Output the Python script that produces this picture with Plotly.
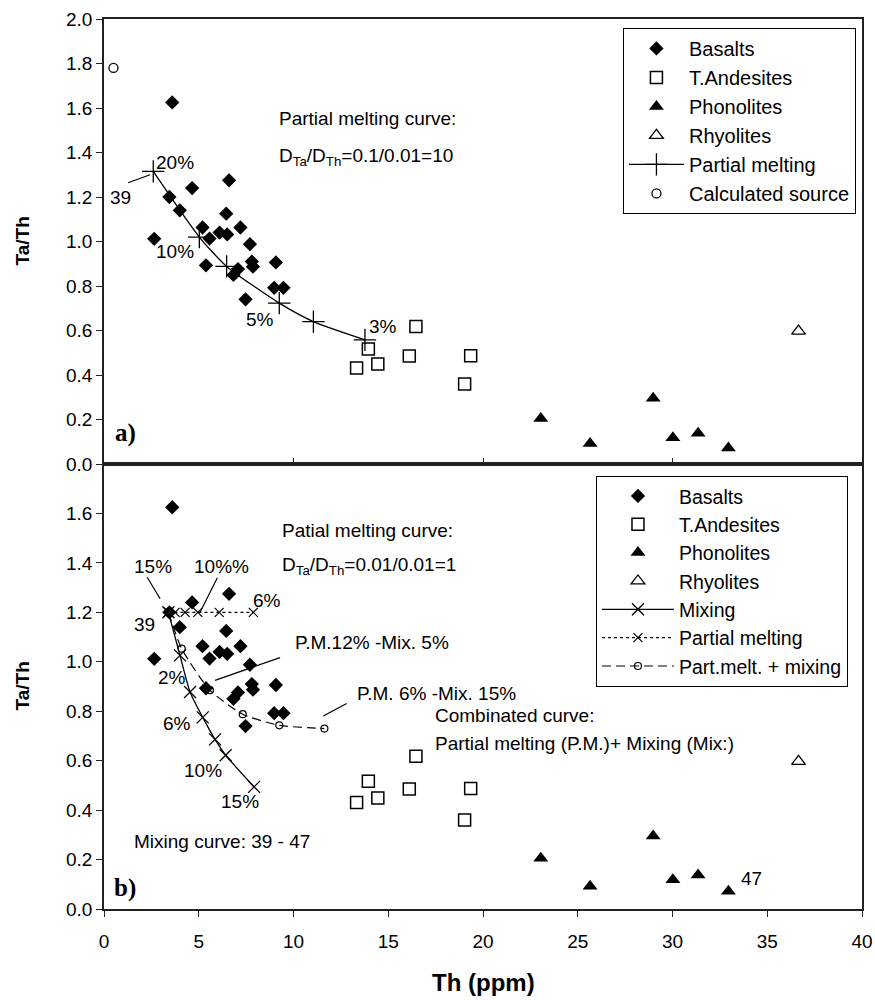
import plotly.graph_objects as go

# ---------------- data ----------------
basalt_th = [3.6, 3.45, 4.0, 4.65, 6.6, 6.45, 5.2, 6.1, 6.5, 7.2, 2.65, 5.57,
             7.7, 5.38, 7.07, 6.83, 7.8, 7.86, 9.07, 8.98, 9.47, 7.47]
basalt_tath = [1.625, 1.2, 1.14, 1.24, 1.275, 1.125, 1.063, 1.04, 1.032, 1.063, 1.012, 1.013,
               0.988, 0.893, 0.876, 0.85, 0.91, 0.887, 0.906, 0.792, 0.792, 0.74]
andes_th = [13.95, 13.33, 14.45, 16.11, 16.46, 19.35, 19.03]
andes_tath = [0.517, 0.431, 0.449, 0.485, 0.618, 0.487, 0.36]
phono_th = [23.05, 25.65, 28.98, 30.02, 31.35, 32.95]
phono_tath = [0.205, 0.092, 0.295, 0.118, 0.138, 0.072]
rhyo_th = [36.65]
rhyo_tath = [0.597]
source_th = [0.5]
source_tath = [1.78]

# panel a: partial melting curve (D=10)
pm_a_th = [2.6, 5.03, 6.47, 9.25, 11.05, 13.77]
pm_a_tath = [1.315, 1.02, 0.888, 0.723, 0.64, 0.558]

# panel b curves
mix_th = [3.4, 4.01, 4.54, 5.21, 5.86, 6.42, 7.92]
mix_tath = [1.2, 1.026, 0.878, 0.775, 0.686, 0.622, 0.494]
pm_b_th = [3.4, 3.75, 4.28, 4.95, 6.08, 7.88]
pm_b_tath = [1.2, 1.2, 1.2, 1.2, 1.2, 1.2]
comb_th = [3.4, 4.1, 5.59, 7.32, 9.25, 11.63]
comb_tath = [1.2, 1.053, 0.885, 0.788, 0.743, 0.73]

x_ticks_a = [0, 10, 20, 30, 40]
x_ticks_b = [0, 5, 10, 15, 20, 25, 30, 35, 40]
y_ticks_a = [0.0, 0.2, 0.4, 0.6, 0.8, 1.0, 1.2, 1.4, 1.6, 1.8, 2.0]
y_ticks_b = [0.0, 0.2, 0.4, 0.6, 0.8, 1.0, 1.2, 1.4, 1.6]

FONT = "Liberation Sans, Arial, sans-serif"
FS = 19
BLACK = "black"

fig = go.Figure()


def add_samples(xa, ya, leg):
    fig.add_trace(go.Scatter(x=basalt_th, y=basalt_tath, mode="markers", name="Basalts",
                             marker=dict(symbol="diamond", size=11, color=BLACK),
                             xaxis=xa, yaxis=ya, legend=leg, legendrank=1))
    fig.add_trace(go.Scatter(x=andes_th, y=andes_tath, mode="markers", name="T.Andesites",
                             marker=dict(symbol="square-open", size=12, color=BLACK,
                                         line=dict(width=1.5, color=BLACK)),
                             xaxis=xa, yaxis=ya, legend=leg, legendrank=2))
    fig.add_trace(go.Scatter(x=phono_th, y=phono_tath, mode="markers", name="Phonolites",
                             marker=dict(symbol="triangle-up", size=13, color=BLACK),
                             xaxis=xa, yaxis=ya, legend=leg, legendrank=3))
    fig.add_trace(go.Scatter(x=rhyo_th, y=rhyo_tath, mode="markers", name="Rhyolites",
                             marker=dict(symbol="triangle-up-open", size=12, color=BLACK,
                                         line=dict(width=1.3, color=BLACK)),
                             xaxis=xa, yaxis=ya, legend=leg, legendrank=4))


# ---- panel a ----
fig.add_trace(go.Scatter(x=pm_a_th, y=pm_a_tath, mode="lines+markers", name="Partial melting",
                         line=dict(color=BLACK, width=1.3, shape="spline", smoothing=0.6),
                         marker=dict(symbol="cross-thin", size=16, color=BLACK,
                                     line=dict(width=1.3, color=BLACK)),
                         xaxis="x", yaxis="y", legend="legend", legendrank=5))
add_samples("x", "y", "legend")
fig.add_trace(go.Scatter(x=source_th, y=source_tath, mode="markers", name="Calculated source",
                         marker=dict(symbol="circle-open", size=9, color=BLACK,
                                     line=dict(width=1.3, color=BLACK)),
                         xaxis="x", yaxis="y", legend="legend", legendrank=6))

# ---- panel b ----
fig.add_trace(go.Scatter(x=mix_th, y=mix_tath, mode="lines+markers", name="Mixing",
                         line=dict(color=BLACK, width=1.3, shape="spline", smoothing=0.6),
                         marker=dict(symbol="x-thin", size=12, color=BLACK,
                                     line=dict(width=1.3, color=BLACK)),
                         xaxis="x2", yaxis="y2", legend="legend2", legendrank=5))
fig.add_trace(go.Scatter(x=pm_b_th, y=pm_b_tath, mode="lines+markers", name="Partial melting",
                         line=dict(color=BLACK, width=1.2, dash="3px,3px"),
                         marker=dict(symbol="x-thin", size=9, color=BLACK,
                                     line=dict(width=1.2, color=BLACK)),
                         xaxis="x2", yaxis="y2", legend="legend2", legendrank=6))
fig.add_trace(go.Scatter(x=comb_th, y=comb_tath, mode="lines+markers", name="Part.melt. + mixing",
                         line=dict(color=BLACK, width=1.2, dash="9px,5px", shape="spline",
                                   smoothing=0.6),
                         marker=dict(symbol="circle-open", size=7, color=BLACK,
                                     line=dict(width=1.2, color=BLACK)),
                         xaxis="x2", yaxis="y2", legend="legend2", legendrank=7))
add_samples("x2", "y2", "legend2")

axis_common = dict(showline=True, linecolor="#222", linewidth=1.5, mirror=True,
                   showgrid=False, zeroline=False, ticks="outside", ticklen=6,
                   tickcolor="#222", tickwidth=1.3, automargin=False,
                   tickfont=dict(family=FONT, size=FS, color=BLACK))

fig.update_layout(
    width=875, height=1000, autosize=False,
    margin=dict(l=104, r=13, t=19, b=91, autoexpand=False),
    paper_bgcolor="white", plot_bgcolor="white",
    font=dict(family=FONT, size=FS, color=BLACK),
    xaxis=dict(axis_common, domain=[0, 1], anchor="y", range=[0, 40], tickvals=x_ticks_a,
               ticks="inside", showticklabels=False),
    yaxis=dict(axis_common, domain=[0.5, 1], anchor="x", range=[0, 2.0], tickvals=y_ticks_a,
               tickformat=".1f"),
    xaxis2=dict(axis_common, domain=[0, 1], anchor="y2", range=[0, 40], tickvals=x_ticks_b,
                ticklabelstandoff=8),
    yaxis2=dict(axis_common, domain=[0, 0.5], anchor="x2", range=[0, 1.8], tickvals=y_ticks_b,
                tickformat=".1f"),
    legend=dict(x=0.992, y=0.99, xanchor="right", yanchor="top", bgcolor="white",
                bordercolor=BLACK, borderwidth=1, font=dict(family=FONT, size=20),
                tracegroupgap=0, itemwidth=55),
    legend2=dict(x=0.9815, y=0.4868, xanchor="right", yanchor="top", bgcolor="white",
                 bordercolor=BLACK, borderwidth=1, font=dict(family=FONT, size=19.5),
                 tracegroupgap=0, itemwidth=72),
)

ann = []


def txt(xr, yr, x, y, text, xanchor="center", size=FS, family=FONT):
    ann.append(dict(xref=xr, yref=yr, x=x, y=y, text=text, showarrow=False, xanchor=xanchor,
                    yanchor="middle", font=dict(family=family, size=size, color=BLACK)))


# panel a texts
txt("x", "y", 0.88, 1.20, "39")
txt("x", "y", 3.75, 1.357, "20%")
txt("x", "y", 3.75, 0.955, "10%")
txt("x", "y", 8.23, 0.651, "5%")
txt("x", "y", 14.71, 0.618, "3%")
txt("x", "y", 9.13, 1.555, "Partial melting curve:", xanchor="left")
txt("x", "y", 9.13, 1.382, "D<sub>Ta</sub>/D<sub>Th</sub>=0.1/0.01=10", xanchor="left")
txt("x", "y", 1.11, 0.141, "<b>a)</b>", size=25, family="Liberation Serif, Times New Roman, serif")

# panel b texts
txt("x2", "y2", 2.6, 1.386, "15%")
txt("x2", "y2", 6.21, 1.386, "10%%")
txt("x2", "y2", 8.59, 1.248, "6%")
txt("x2", "y2", 2.16, 1.152, "39")
txt("x2", "y2", 3.57, 0.936, "2%")
txt("x2", "y2", 3.87, 0.75, "6%")
txt("x2", "y2", 5.21, 0.562, "10%")
txt("x2", "y2", 7.18, 0.434, "15%")
txt("x2", "y2", 9.29, 1.531, "Patial melting curve:", xanchor="left")
txt("x2", "y2", 9.29, 1.386, "D<sub>Ta</sub>/D<sub>Th</sub>=0.01/0.01=1", xanchor="left")
txt("x2", "y2", 9.99, 1.076, "P.M.12% -Mix. 5%", xanchor="left")
txt("x2", "y2", 13.25, 0.871, "P.M. 6% -Mix. 15%", xanchor="left")
txt("x2", "y2", 17.36, 0.784, "Combinated curve:", xanchor="left")
txt("x2", "y2", 17.36, 0.671, "Partial melting (P.M.)+ Mixing (Mix:)", xanchor="left")
txt("x2", "y2", 1.46, 0.272, "Mixing curve: 39 - 47", xanchor="left")
txt("x2", "y2", 34.18, 0.124, "47")
txt("x2", "y2", 1.11, 0.085, "<b>b)</b>", size=25, family="Liberation Serif, Times New Roman, serif")

# axis titles
ann.append(dict(xref="paper", yref="paper", x=0, y=0.75, xshift=-82, xanchor="center",
                yanchor="middle", text="<b>Ta/Th</b>", textangle=-90, showarrow=False,
                font=dict(family=FONT, size=19, color=BLACK)))
ann.append(dict(xref="paper", yref="paper", x=0, y=0.25, xshift=-82, xanchor="center",
                yanchor="middle", text="<b>Ta/Th</b>", textangle=-90, showarrow=False,
                font=dict(family=FONT, size=19, color=BLACK)))
ann.append(dict(xref="paper", yref="paper", x=0.5, y=0, yshift=-73, xanchor="center",
                yanchor="middle", text="<b>Th (ppm)</b>", showarrow=False,
                font=dict(family=FONT, size=24, color=BLACK)))
fig.update_layout(annotations=ann)

# leader lines
leaders = [
    ("x", "y", 1.27, 1.264, 2.43, 1.30),
    ("x2", "y2", 2.28, 1.342, 2.96, 1.255),
    ("x2", "y2", 5.98, 1.34, 5.07, 1.2),
    ("x2", "y2", 5.86, 0.925, 9.29, 1.017),
    ("x2", "y2", 11.57, 0.781, 12.81, 0.831),
]
for xr, yr, x0, y0, x1, y1 in leaders:
    fig.add_shape(type="line", xref=xr, yref=yr, x0=x0, y0=y0, x1=x1, y1=y1,
                  line=dict(color=BLACK, width=1.2))

fig.write_html("out.html")
